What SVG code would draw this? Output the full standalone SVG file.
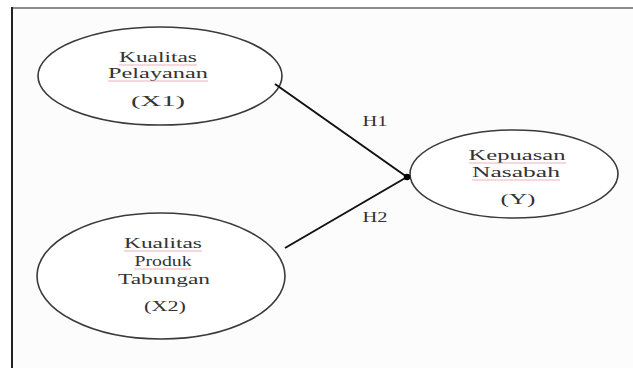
<svg xmlns="http://www.w3.org/2000/svg" width="633" height="368" viewBox="0 0 633 368">
<defs>
<style>
.node ellipse{fill:#ffffff;stroke:#3a3a3a;stroke-width:1.6}
.lbl{font-family:"Liberation Serif","Times New Roman",serif;font-size:15px;fill:#333333;text-anchor:middle}
.sq{stroke:#e8a0a8;stroke-width:0.8;fill:none}
.conn line{stroke:#111;stroke-width:2}
</style>
</defs>
<rect x="0" y="0" width="633" height="368" fill="#ffffff"/>
<rect x="12" y="8" width="625" height="366" fill="#fcfcfc" stroke="none"/>
<line x1="12" y1="8" x2="633" y2="8" stroke="#666" stroke-width="1.5"/>
<line x1="12" y1="7" x2="12" y2="368" stroke="#222" stroke-width="2"/>
<g id="x1" class="node">
<ellipse cx="160" cy="76" rx="122" ry="49"/>
<text class="lbl" x="158" y="62" textLength="78" lengthAdjust="spacingAndGlyphs">Kualitas</text>
<text class="lbl" x="158" y="78" textLength="100" lengthAdjust="spacingAndGlyphs">Pelayanan</text>
<text class="lbl" x="158" y="106" textLength="54" lengthAdjust="spacingAndGlyphs">(X1)</text>
<path class="sq" d="M119 65 H197 M108 81 H208"/>
</g>
<g id="x2" class="node">
<ellipse cx="161" cy="276" rx="124" ry="63"/>
<text class="lbl" x="163" y="248" textLength="78" lengthAdjust="spacingAndGlyphs">Kualitas</text>
<text class="lbl" x="163" y="266" textLength="57" lengthAdjust="spacingAndGlyphs">Produk</text>
<text class="lbl" x="164" y="284" textLength="92" lengthAdjust="spacingAndGlyphs">Tabungan</text>
<text class="lbl" x="165" y="311" textLength="42" lengthAdjust="spacingAndGlyphs">(X2)</text>
<path class="sq" d="M124 251 H202 M134 269 H191"/>
</g>
<g id="y" class="node">
<ellipse cx="514" cy="174" rx="104" ry="44"/>
<text class="lbl" x="517" y="160" textLength="97" lengthAdjust="spacingAndGlyphs">Kepuasan</text>
<text class="lbl" x="516" y="177" textLength="88" lengthAdjust="spacingAndGlyphs">Nasabah</text>
<text class="lbl" x="518" y="204" textLength="35" lengthAdjust="spacingAndGlyphs">(Y)</text>
<path class="sq" d="M469 163 H566 M472 180 H560"/>
</g>
<g id="connectors" class="conn">
<line x1="275" y1="84" x2="407" y2="177"/>
<line x1="285" y1="248" x2="407" y2="177"/>
<circle cx="407" cy="177" r="3.2" fill="#000"/>
<text class="lbl" x="375" y="126" textLength="25" lengthAdjust="spacingAndGlyphs">H1</text>
<text class="lbl" x="375" y="222" textLength="25" lengthAdjust="spacingAndGlyphs">H2</text>
</g>
</svg>
